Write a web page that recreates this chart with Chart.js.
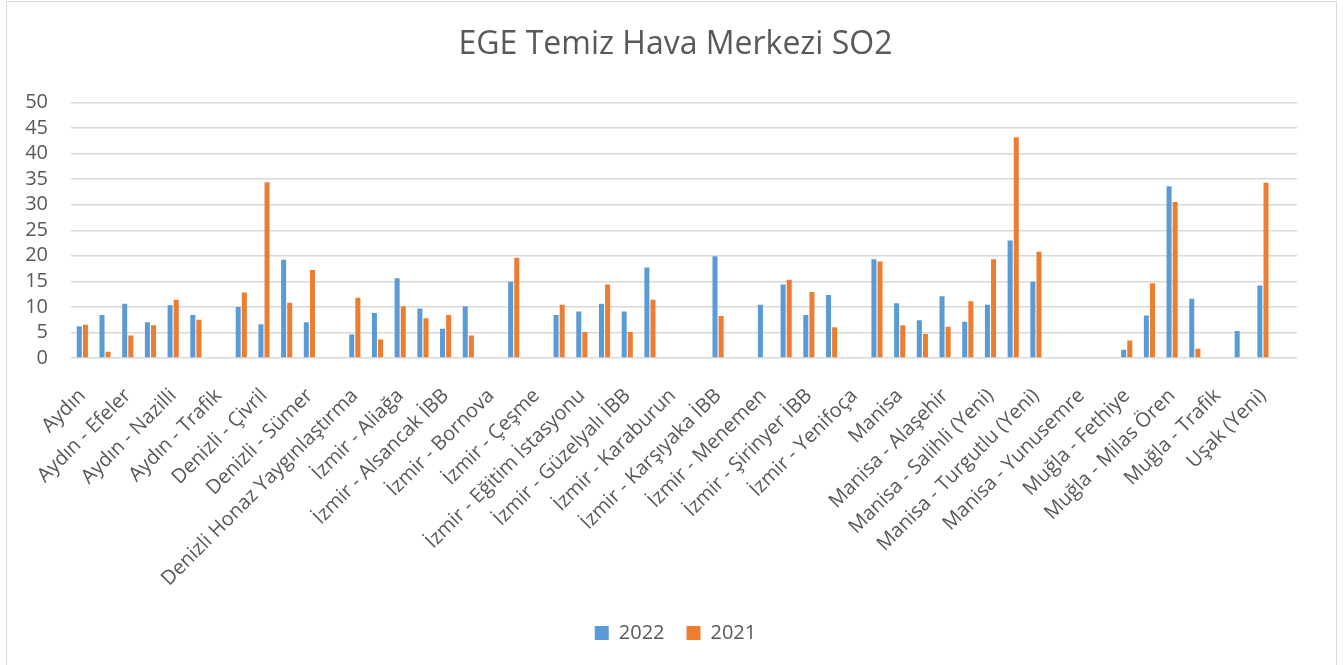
<!DOCTYPE html>
<html>
<head>
<meta charset="utf-8">
<script src="https://cdn.jsdelivr.net/npm/chart.js@4"></script>
<style>
  html, body { margin: 0; padding: 0; background: #fff; overflow: hidden; }
  #frame { position: absolute; left: 6px; top: 1px; width: 1329px; height: 700px; border: 1.5px solid #d9d9d9; }
  #myChart { position: absolute; left: 0; top: 0; }
</style>
</head>
<body>
<div id="frame"></div>
<canvas id="myChart" width="1344" height="665"></canvas>
<script>
// station names; the odd ones are hidden in the source picture (skipped tick labels)
var stations = [
    "Aydın", "",
    "Aydın - Efeler", "",
    "Aydın - Nazilli", "",
    "Aydın - Trafik", "",
    "Denizli - Çivril", "",
    "Denizli - Sümer", "",
    "Denizli Honaz Yaygınlaştırma", "",
    "İzmir - Aliağa", "",
    "İzmir - Alsancak İBB", "",
    "İzmir - Bornova", "",
    "İzmir - Çeşme", "",
    "İzmir - Eğitim İstasyonu", "",
    "İzmir - Güzelyalı İBB", "",
    "İzmir - Karaburun", "",
    "İzmir - Karşıyaka İBB", "",
    "İzmir - Menemen", "",
    "İzmir - Şirinyer İBB", "",
    "İzmir - Yenifoça", "",
    "Manisa", "",
    "Manisa - Alaşehir", "",
    "Manisa - Salihli (Yeni)", "",
    "Manisa - Turgutlu (Yeni)", "",
    "Manisa - Yunusemre", "",
    "Muğla - Fethiye", "",
    "Muğla - Milas Ören", "",
    "Muğla - Trafik", "",
    "Uşak (Yeni)", "",
];

var so2_2022 = [
    6.2, 8.4, 10.6, 7.0, 10.3, 8.4, null, 10.0, 6.6, 19.2,
    7.0, null, 4.6, 8.8, 15.6, 9.7, 5.7, 10.1, null, 14.9,
    null, 8.4, 9.1, 10.6, 9.1, 17.7, null, null, 19.9, null,
    10.4, 14.4, 8.4, 12.3, null, 19.3, 10.7, 7.4, 12.1, 7.1,
    10.4, 23.0, 14.9, null, null, null, 1.6, 8.3, 33.6, 11.6,
    null, 5.3, 14.2, null,
];

var so2_2021 = [
    6.5, 1.2, 4.4, 6.4, 11.4, 7.5, null, 12.8, 34.4, 10.8,
    17.2, null, 11.8, 3.6, 10.1, 7.8, 8.4, 4.4, null, 19.6,
    null, 10.4, 5.1, 14.4, 5.1, 11.4, null, null, 8.2, null,
    null, 15.3, 12.9, 6.0, null, 18.9, 6.4, 4.7, 6.1, 11.1,
    19.3, 43.2, 20.8, null, null, null, 3.4, 14.6, 30.5, 1.8,
    null, null, 34.3, null,
];

var yTicks = [0, 5, 10, 15, 20, 25, 30, 35, 40, 45, 50];

Chart.defaults.font.family = "'Open Sans', sans-serif";
Chart.defaults.color = "#595959";

var ctx = document.getElementById("myChart").getContext("2d");

var myChart = new Chart(ctx, {
    type: "bar",
    data: {
        labels: stations,
        datasets: [
            {
                label: "2022",
                data: so2_2022,
                backgroundColor: "#5B9BD5",
                categoryPercentage: 0.54,
                barPercentage: 0.82,
            },
            {
                label: "2021",
                data: so2_2021,
                backgroundColor: "#ED7D31",
                categoryPercentage: 0.54,
                barPercentage: 0.82,
            },
        ],
    },
    options: {
        responsive: false,
        animation: false,
        layout: {
            padding: { left: 7, right: 0, top: 0, bottom: 12 },
        },
        plugins: {
            title: {
                display: true,
                text: "EGE Temiz Hava Merkezi SO2",
                font: { size: 32, weight: "normal" },
                color: "#595959",
                padding: { top: 26, bottom: 38 },
            },
            legend: {
                position: "bottom",
                labels: {
                    boxWidth: 14,
                    boxHeight: 14,
                    padding: 22,
                    font: { size: 20 },
                    color: "#595959",
                },
            },
            tooltip: { enabled: false },
        },
        scales: {
            x: {
                grid: { display: false, drawTicks: false },
                border: { display: false },
                ticks: {
                    autoSkip: false,
                    minRotation: 45,
                    maxRotation: 45,
                    padding: 26,
                    font: { size: 20 },
                    color: "#595959",
                },
                afterFit: function (scale) {
                    scale.height = 243;
                },
            },
            y: {
                min: 0,
                max: 50,
                afterBuildTicks: function (scale) {
                    scale.ticks = yTicks.map(function (v) { return { value: v }; });
                },
                grid: { color: "#d9d9d9", lineWidth: 1.4, drawTicks: false },
                border: { display: false },
                ticks: {
                    autoSkip: false,
                    padding: 23,
                    font: { size: 20 },
                    color: "#595959",
                },
                afterFit: function (scale) {
                    scale.width = 64;
                },
            },
            // empty right-hand margin so title and legend centre on the whole frame
            y2: {
                position: "right",
                grid: { display: false, drawTicks: false },
                border: { display: false },
                ticks: { display: false },
                afterFit: function (scale) {
                    scale.width = 47;
                },
            },
        },
    },
});
</script>
</body>
</html>
